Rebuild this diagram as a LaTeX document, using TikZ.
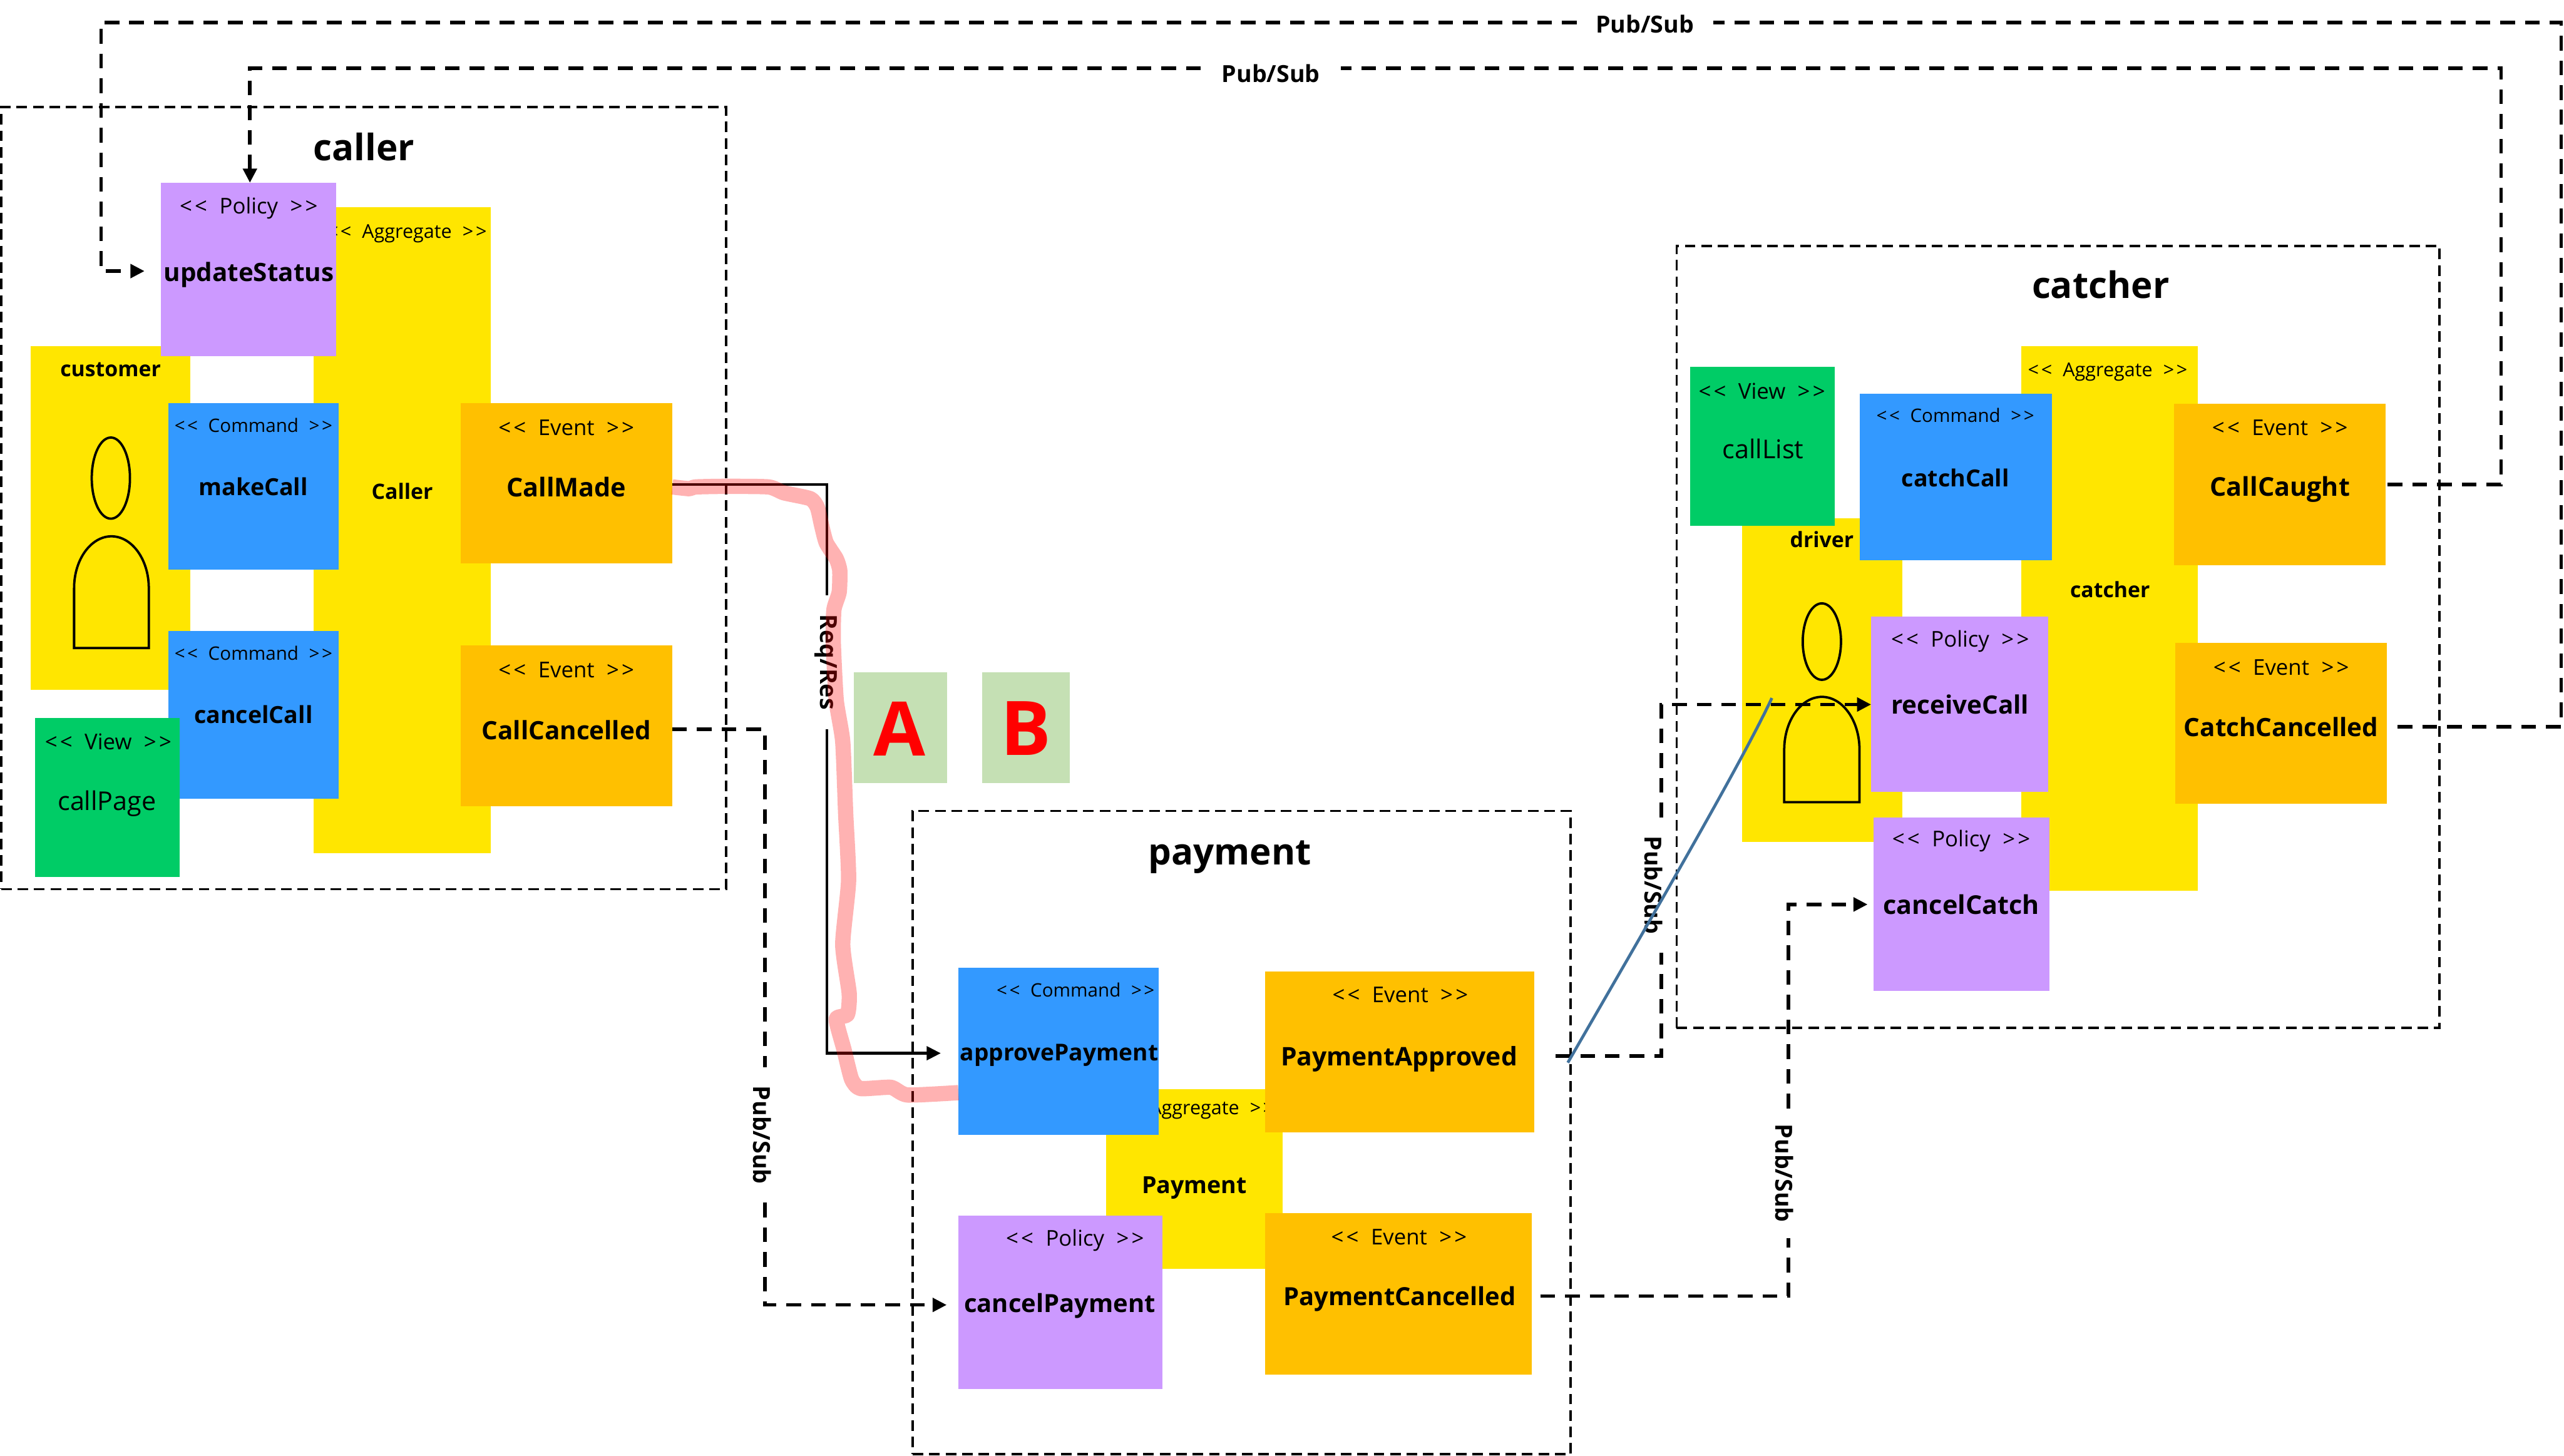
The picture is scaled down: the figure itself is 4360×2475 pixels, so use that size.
\documentclass[tikz,border=0pt]{standalone}
\usepackage{fontspec}
\setmainfont{Open Sans}
\usetikzlibrary{arrows.meta,calc,shapes.geometric}
\definecolor{aggY}{HTML}{FFE600}
\definecolor{polP}{HTML}{CC99FF}
\definecolor{cmdB}{HTML}{3399FF}
\definecolor{evtO}{HTML}{FFC000}
\definecolor{viewG}{HTML}{00CC66}
\definecolor{abG}{HTML}{C5E0B4}
\definecolor{blueL}{HTML}{41719C}
\newcommand{\fs}[1]{\fontsize{#1}{#1}\selectfont}
\newcommand{\bx}[6]{\node[boxn,fill=#2,minimum width={(#5-#3)*1pt},minimum height={(#6-#4)*1pt}] (#1) at ({(#3+#5)/2},{(#4+#6)/2}) {};}
\newcommand{\st}[5]{\node[txt] (#1) at (#3,#4) {\fs{#2}<\kern.12em<\hspace{.3em} #5\hspace{.3em} >\kern.12em>};}
\newcommand{\pl}[5]{\node[txt] (#1) at (#3,#4) {\fs{#2}#5};}
\newcommand{\bn}[5]{\node[txt] (#1) at (#3,#4) {\fs{#2}\bfseries #5};}
\tikzset{
  boxn/.style={inner sep=0pt,draw=none,rectangle},
  txt/.style={inner sep=0pt,text=black,anchor=center},
  frameb/.style={draw=black,line width=4pt,dash pattern=on 18pt off 10pt,rectangle,inner sep=0pt},
  conn/.style={draw=black,line width=6pt,dash pattern=on 25pt off 17pt},
  tip/.style={-{Triangle[length=24pt,width=23pt]}},
  solidc/.style={draw=black,line width=5pt},
  lbl/.style={inner sep=0pt,font=\fs{40}\bfseries,text=black},
  vlbl/.style={lbl,rotate=-90},
  person/.style={draw=black,line width=4pt}
}
\begin{document}
\begin{tikzpicture}[x=1pt,y=-1pt]
\useasboundingbox (0,0) rectangle (4360,2475);
% frames
\node[frameb,minimum width=1233pt,minimum height=1330pt] (fCaller) at (618.5,847) {};
\node[frameb,minimum width=1119pt,minimum height=1094pt] (fPayment) at (2111.5,1926) {};
\node[frameb,minimum width=1297pt,minimum height=1330pt] (fCatcher) at (3499.5,1083) {};
\bn{tCaller}{62}{619}{250}{caller}
\bn{tPayment}{62}{2091}{1457}{payment}
\bn{tCatcher}{62}{3572}{484}{catcher}
% caller
\bx{aCaller}{aggY}{533}{352}{835}{1451}
\st{aCallerS}{32.5}{692}{397}{Aggregate}
\bn{aCallerN}{36}{684}{835}{Caller}
\bx{customer}{aggY}{52}{589}{324}{1173}
\bn{customerN}{36}{188}{628}{customer}
\node[person,ellipse,inner sep=0pt,minimum width=65pt,minimum height=138pt] (custHead) at (188.5,813) {};
\draw[person] (126,1102) -- (126,1000) .. controls (126,951) and (155,912) .. (189.5,912) .. controls (224,912) and (253,951) .. (253,1000) -- (253,1102) -- cycle;
\bx{updateStatus}{polP}{274}{311}{572}{606}
\st{updateStatusS}{37}{423}{354}{Policy}
\bn{updateStatusN}{43}{423}{467}{updateStatus}
\bx{makeCall}{cmdB}{286}{685}{576}{969}
\st{makeCallS}{31.5}{431}{723}{Command}
\bn{makeCallN}{40}{431}{828}{makeCall}
\bx{cancelCall}{cmdB}{286}{1073}{576}{1358}
\st{cancelCallS}{31.5}{431}{1111}{Command}
\bn{cancelCallN}{40}{431}{1215}{cancelCall}
\bx{callPage}{viewG}{60}{1221}{306}{1491}
\st{callPageS}{37}{184}{1261}{View}
\pl{callPageN}{44}{182}{1366}{callPage}
\bx{callMade}{evtO}{783}{685}{1143}{958}
\st{callMadeS}{37}{963}{727}{Event}
\bn{callMadeN}{44}{963}{828}{CallMade}
\bx{callCancelled}{evtO}{783}{1097}{1143}{1371}
\st{callCancelledS}{37}{963}{1139}{Event}
\bn{callCancelledN}{43}{963}{1241}{CallCancelled}
% A B
\bx{boxA}{abG}{1452}{1143}{1610}{1332}
\node[txt,text=red,font=\fs{128}\bfseries] (letterA) at (1530,1239) {A};
\bx{boxB}{abG}{1670}{1143}{1819}{1332}
\node[txt,text=red,font=\fs{128}\bfseries] (letterB) at (1745,1239) {B};
% payment
\bx{aPayment}{aggY}{1881}{1852}{2181}{2158}
\st{aPaymentS}{32.5}{2031}{1888}{Aggregate}
\bn{aPaymentN}{40}{2031}{2020}{Payment}
\bx{approvePayment}{cmdB}{1630}{1646}{1970}{1930}
\st{approvePaymentS}{31.5}{1829}{1683}{Command}
\bn{approvePaymentN}{39.5}{1801}{1794}{approvePayment}
\bx{cancelPayment}{polP}{1630}{2067}{1977}{2362}
\st{cancelPaymentS}{37}{1828}{2109}{Policy}
\bn{cancelPaymentN}{42.5}{1802}{2221}{cancelPayment}
\bx{paymentApproved}{evtO}{2151}{1652}{2609}{1926}
\st{paymentApprovedS}{37}{2381}{1692}{Event}
\bn{paymentApprovedN}{43.5}{2379}{1801}{PaymentApproved}
\bx{paymentCancelled}{evtO}{2151}{2063}{2605}{2337}
\st{paymentCancelledS}{37}{2379}{2104}{Event}
\bn{paymentCancelledN}{42.5}{2380}{2209}{PaymentCancelled}
% catcher
\bx{aCatcher}{aggY}{3437}{589}{3737}{1515}
\st{aCatcherS}{32.5}{3584}{632}{Aggregate}
\bn{aCatcherN}{36}{3588}{1003}{catcher}
\bx{driver}{aggY}{2962}{881}{3235}{1432}
\bn{driverN}{36}{3098}{917}{driver}
\node[person,ellipse,inner sep=0pt,minimum width=65pt,minimum height=130pt] (drvHead) at (3098,1091) {};
\draw[person] (3034,1364) -- (3034,1275) .. controls (3034,1225) and (3063,1185) .. (3098,1185) .. controls (3133,1185) and (3162,1225) .. (3162,1275) -- (3162,1364) -- cycle;
\bx{callList}{viewG}{2874}{624}{3120}{894}
\st{callListS}{37}{2996}{665}{View}
\pl{callListN}{44}{2998}{763}{callList}
\bx{catchCall}{cmdB}{3162}{670}{3489}{953}
\st{catchCallS}{31.5}{3325}{706}{Command}
\bn{catchCallN}{40}{3325}{813}{catchCall}
\bx{receiveCall}{polP}{3182}{1049}{3483}{1346}
\st{receiveCallS}{37}{3333}{1090}{Policy}
\bn{receiveCallN}{43}{3333}{1198}{receiveCall}
\bx{cancelCatch}{polP}{3186}{1390}{3485}{1685}
\st{cancelCatchS}{37}{3335}{1430}{Policy}
\bn{cancelCatchN}{44}{3335}{1538}{cancelCatch}
\bx{callCaught}{evtO}{3697}{687}{4057}{961}
\st{callCaughtS}{37}{3877}{727}{Event}
\bn{callCaughtN}{44}{3877}{832}{CallCaught}
\bx{catchCancelled}{evtO}{3699}{1093}{4059}{1367}
\st{catchCancelledS}{37}{3879}{1135}{Event}
\bn{catchCancelledN}{43}{3879}{1236}{CatchCancelled}
% labels
\node[lbl,minimum width=232pt,minimum height=50pt] (lTop1) at (2797,41) {Pub/Sub};
\node[lbl,minimum width=238pt,minimum height=50pt] (lTop2) at (2161,125) {Pub/Sub};
\node[vlbl,minimum width=228pt] (lReq) at (1404,1126) {Req/Res};
\node[vlbl,minimum width=230pt] (lPay) at (1296,1930) {Pub/Sub};
\node[vlbl,minimum width=230pt] (lRecv) at (2812,1505) {Pub/Sub};
\node[vlbl,minimum width=220pt] (lCatch) at (3034,1995) {Pub/Sub};
% bends
\coordinate (bA) at (4355,38);
\coordinate (bB) at (172,38);
\coordinate (bC) at (4253,116);
\coordinate (bD) at (425,116);
\coordinate (bE) at (1406,824);
\coordinate (bF) at (1406,1791);
\coordinate (bG) at (1301,1240);
\coordinate (bH) at (1301,2219);
\coordinate (bI) at (2825,1796);
\coordinate (bJ) at (2825,1198);
\coordinate (bK) at (3041,2204);
\coordinate (bL) at (3041,1538);
\coordinate (bM) at (172,461);
\coordinate (bN) at (4355,1236);
\coordinate (bO) at (4253,824);
% connectors
\draw[conn] ($(catchCancelled.east|-bN)+(18,0)$) -- (bN) -- (bA) -- (lTop1.east|-bA);
\draw[conn,tip,shorten >=28pt] (lTop1.west|-bA) -- (bB) -- (bM) -- (updateStatus.west|-bM);
\draw[conn] ($(callCaught.east|-bO)+(3,0)$) -- (bO) -- (bC) -- (lTop2.east|-bC);
\draw[conn,tip] (lTop2.west|-bC) -- (bD) -- (updateStatus.north-|bD);
\draw[solidc] (callMade.east|-bE) -- (bE) -- (bE|-lReq.west);
\draw[solidc,tip,shorten >=30pt] (bF|-lReq.east) -- (bF) -- (approvePayment.west|-bF);
\draw[conn] (callCancelled.east|-bG) -- (bG) -- (bG|-lPay.west);
\draw[conn,tip,shorten >=20pt] (bH|-lPay.east) -- (bH) -- (cancelPayment.west|-bH);
\draw[conn] ($(paymentApproved.east|-bI)+(36,0)$) -- (bI) -- (bI|-lRecv.east);
\draw[conn,tip] (bJ|-lRecv.west) -- (bJ) -- (receiveCall.west|-bJ);
\draw[conn] ($(paymentCancelled.east|-bK)+(14,0)$) -- (bK) -- (bK|-lCatch.east);
\draw[conn,tip,shorten >=10pt] (bL|-lCatch.west) -- (bL) -- (cancelCatch.west|-bL);
% annotation strokes
\coordinate (blueA) at (2666,1807);
\coordinate (blueB) at (3013,1187);
\draw[blueL,line width=5pt] (blueA) .. controls (2800,1575) and (2960,1300) .. (blueB);
\draw[red,opacity=.3,line width=26pt,line join=round] plot[smooth,tension=.35] coordinates {(callMade.east|-0,828) (1172,831) (1183,828) (1233,827) (1307,828) (1333,838) (1378,848) (1390,863) (1397,893) (1405,923) (1422,950) (1428,970) (1427,1007) (1418,1037) (1417,1093) (1422,1191) (1433,1261) (1438,1383) (1443,1497) (1433,1606) (1444,1689) (1441,1725) (1422,1733) (1435,1784) (1448,1835) (1463,1851) (1515,1849) (1543,1862) (approvePayment.west|-0,1858)};
\end{tikzpicture}
\end{document}
